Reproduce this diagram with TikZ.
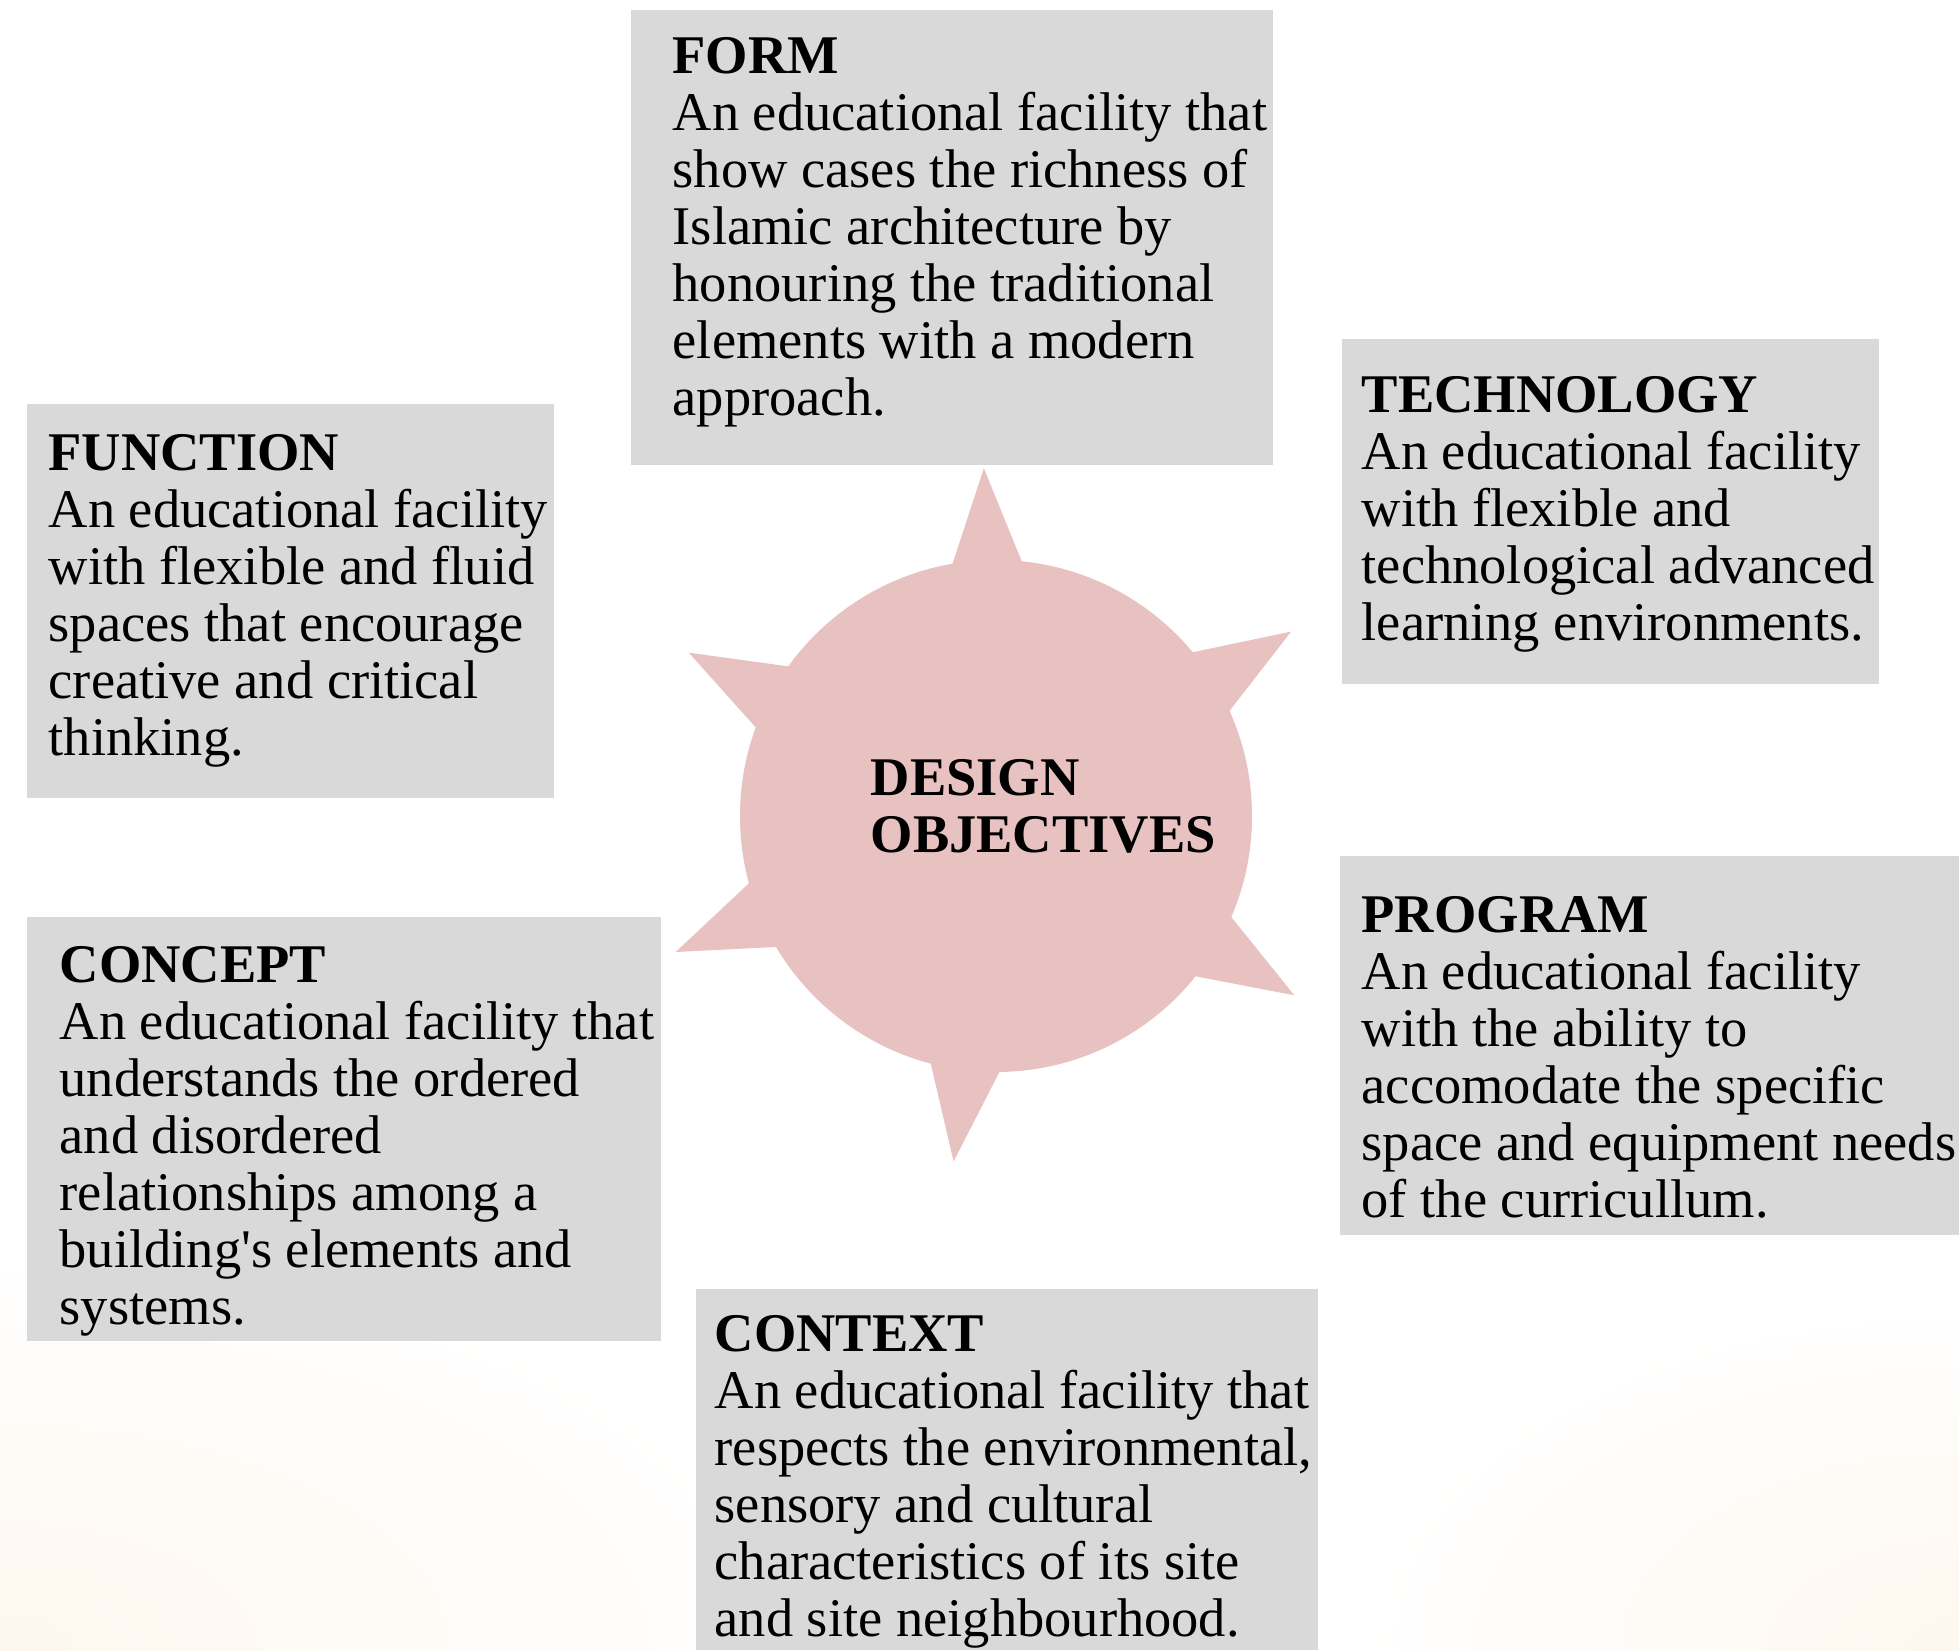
\documentclass[tikz,border=0pt]{standalone}
\usepackage{fontspec}
\setmainfont{Liberation Serif}
\usetikzlibrary{calc}
\definecolor{boxgray}{HTML}{D9D9D9}
\definecolor{sunpink}{HTML}{E8C2C0}
\definecolor{cream}{HTML}{FDF7EE}

\newcommand{\objective}[5]{%
 \fill [boxgray] (#2) rectangle (#3);%
 \node ({#1}) [objtext] at (#4) {#5};%
}

\begin{document}
\begin{tikzpicture}[objtext/.style={anchor=north west,inner sep=0pt,align=left,
   font=\fontsize{15.5}{16.2}\selectfont}]
   \useasboundingbox (0,0) rectangle (19.59,-16.5);
   \fill[white] (0,0) rectangle (19.59,-16.5);
   \shade[inner color=cream,outer color=white] (0,-16.5) ellipse (8 and 4);
   \shade[inner color=cream,outer color=white] (19.59,-16.5) ellipse (6 and 3.5);
   \coordinate (hub) at (9.96,-8.16);
   \foreach \a in {92,32,-31,-97,203,152}
     \fill[sunpink] ($(hub)+(\a-8.5:2.5)$) -- ($(hub)+(\a:3.48)$) -- ($(hub)+(\a+8.5:2.5)$) -- cycle;
   \node (sun) [circle,fill=sunpink,minimum size=5.12cm] at (hub) {};
   \node (core) [objtext] at (8.70,-7.59) {\textbf{DESIGN}\\\textbf{OBJECTIVES}};
   \objective{form}{6.31,-0.10}{12.73,-4.65}{6.72,-0.37}{\textbf{FORM}\\An educational facility that\\show cases the richness of\\Islamic architecture by\\honouring the traditional\\elements with a modern\\approach.}
   \objective{tech}{13.42,-3.39}{18.79,-6.84}{13.61,-3.76}{\textbf{TECHNOLOGY}\\An educational facility\\with flexible and\\technological advanced\\learning environments.}
   \objective{func}{0.27,-4.04}{5.54,-7.98}{0.48,-4.34}{\textbf{FUNCTION}\\An educational facility\\with flexible and fluid\\spaces that encourage\\creative and critical\\thinking.}
   \objective{concept}{0.27,-9.17}{6.61,-13.41}{0.59,-9.46}{\textbf{CONCEPT}\\An educational facility that\\understands the ordered\\and disordered\\relationships among a\\building\textquotesingle s elements and\\systems.}
   \objective{program}{13.40,-8.56}{19.59,-12.35}{13.61,-8.96}{\textbf{PROGRAM}\\An educational facility\\with the ability to\\accomodate the specific\\space and equipment needs\\of the curricullum.}
   \objective{context}{6.96,-12.89}{13.18,-16.5}{7.14,-13.15}{\textbf{CONTEXT}\\An educational facility that\\respects the environmental,\\sensory and cultural\\characteristics of its site\\and site neighbourhood.}
\end{tikzpicture}
\end{document}
